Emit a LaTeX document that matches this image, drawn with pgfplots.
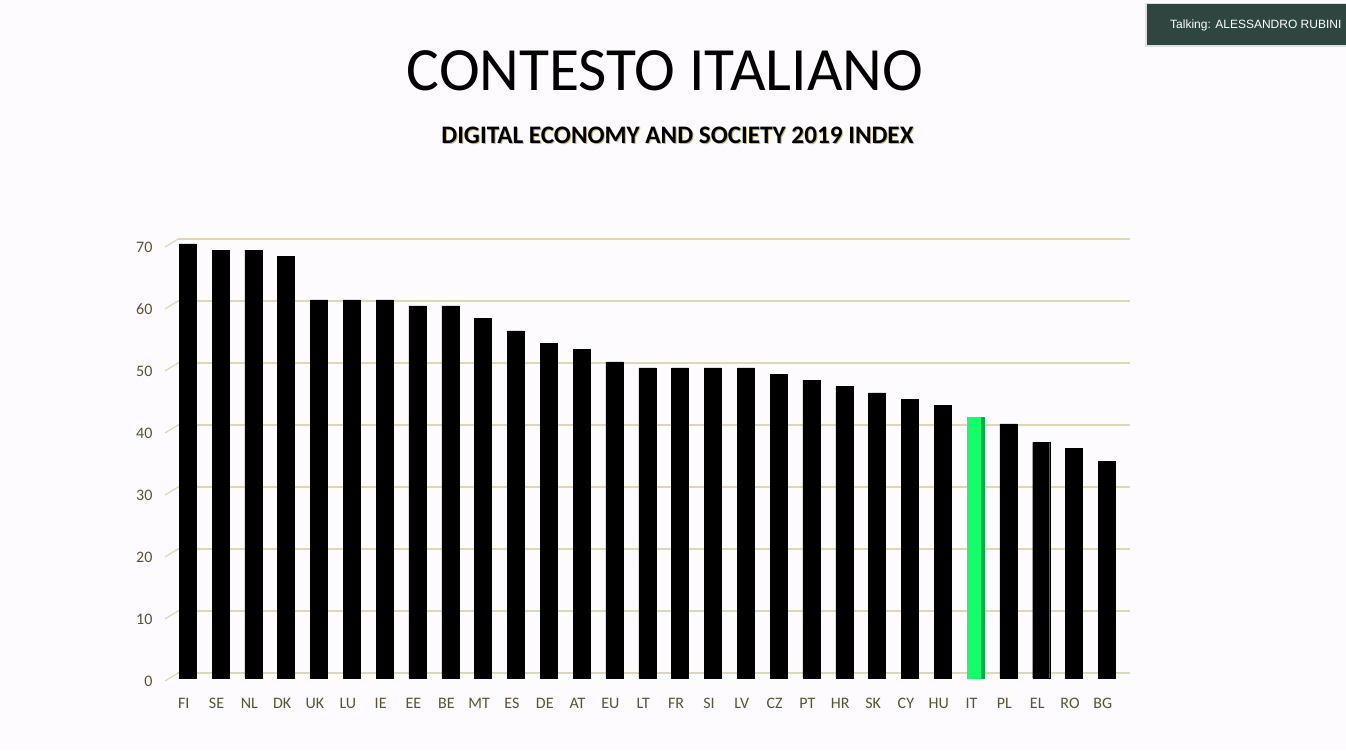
\documentclass[border=0pt]{standalone}
\usepackage{pgfplots}
\pgfplotsset{compat=1.18}
\usepackage{fontspec}
\setmainfont{Carlito}
\newfontfamily\badgefont{Liberation Sans}
\definecolor{bgc}{RGB}{253,251,253}
\definecolor{gridc}{RGB}{221,216,176}
\definecolor{labc}{RGB}{92,82,54}
\definecolor{greenf}{RGB}{18,255,106}
\definecolor{greens}{RGB}{12,168,74}
\definecolor{badge}{RGB}{46,69,64}
\definecolor{shadowc}{RGB}{185,170,90}
\begin{document}
\begin{tikzpicture}[x=1pt,y=1pt]
\fill[bgc] (0,0) rectangle (1346,750);
% badge
\fill[black!12] (1145,703) rectangle (1346,747);
\fill[badge] (1147,705) rectangle (1346,746);
\node[anchor=west,text=white,inner sep=0pt] at (1170,724.5) {\badgefont\fontsize{12}{13}\selectfont Talking: ALESSANDRO RUBINI};
% titles
\node[inner sep=0pt] at (665,679) {\fontsize{61.5}{70}\selectfont CONTESTO ITALIANO};
\node[inner sep=0pt,text=shadowc,opacity=0.8] at (678.5,613.5) {\fontsize{25.2}{30}\selectfont\bfseries DIGITAL ECONOMY AND SOCIETY 2019 INDEX};
\node[inner sep=0pt] at (677.5,615) {\fontsize{25.2}{30}\selectfont\bfseries DIGITAL ECONOMY AND SOCIETY 2019 INDEX};
% left wall diagonals
\foreach \v in {0,10,...,70}{
  \draw[gridc, line width=1.2pt] (165,69+6.2*\v) -- (178,77+6.2*\v);
}
\begin{axis}[
  at={(166pt,72pt)}, anchor=south west,
  scale only axis, width=952pt, height=434pt,
  xmin=-0.6, xmax=28.4, ymin=0, ymax=70,
  clip=false,
  axis line style={draw=none},
  major tick length=0pt,
  ytick={0,10,...,70},
  xtick={0,...,28},
  xticklabels={FI,SE,NL,DK,UK,LU,IE,EE,BE,MT,ES,DE,AT,EU,LT,FR,SI,LV,CZ,PT,HR,SK,CY,HU,IT,PL,EL,RO,BG},
  ymajorgrids,
  major grid style={draw=gridc, line width=1.1pt, xshift=12pt, yshift=5pt},
  /pgf/number format/assume math mode=true,
  yticklabel style={font=\fontsize{16}{18}\selectfont, text=labc, xshift=-10pt, yshift=-3pt},
  xticklabel style={font=\fontsize{16}{18}\selectfont, text=labc, xshift=-2pt, yshift=-17pt},
  ybar, bar width=17pt,
]
\addplot[fill=black, draw=black, bar shift=2pt] coordinates {
(0,70) (1,69) (2,69) (3,68) (4,61) (5,61) (6,61) (7,60) (8,60) (9,58)
(10,56) (11,54) (12,53) (13,51) (14,50) (15,50) (16,50) (17,50) (18,49) (19,48)
(20,47) (21,46) (22,45) (23,44) (25,41) (26,38) (27,37) (28,35)};
\addplot[fill=greens, draw=greens, bar shift=2pt] coordinates {(24,42)};
\addplot[fill=greenf, draw=greenf, bar width=13pt, bar shift=0pt] coordinates {(24,42)};
\end{axis}
\pgfresetboundingbox
\useasboundingbox (0,0) rectangle (1346,750);
\end{tikzpicture}
\end{document}
